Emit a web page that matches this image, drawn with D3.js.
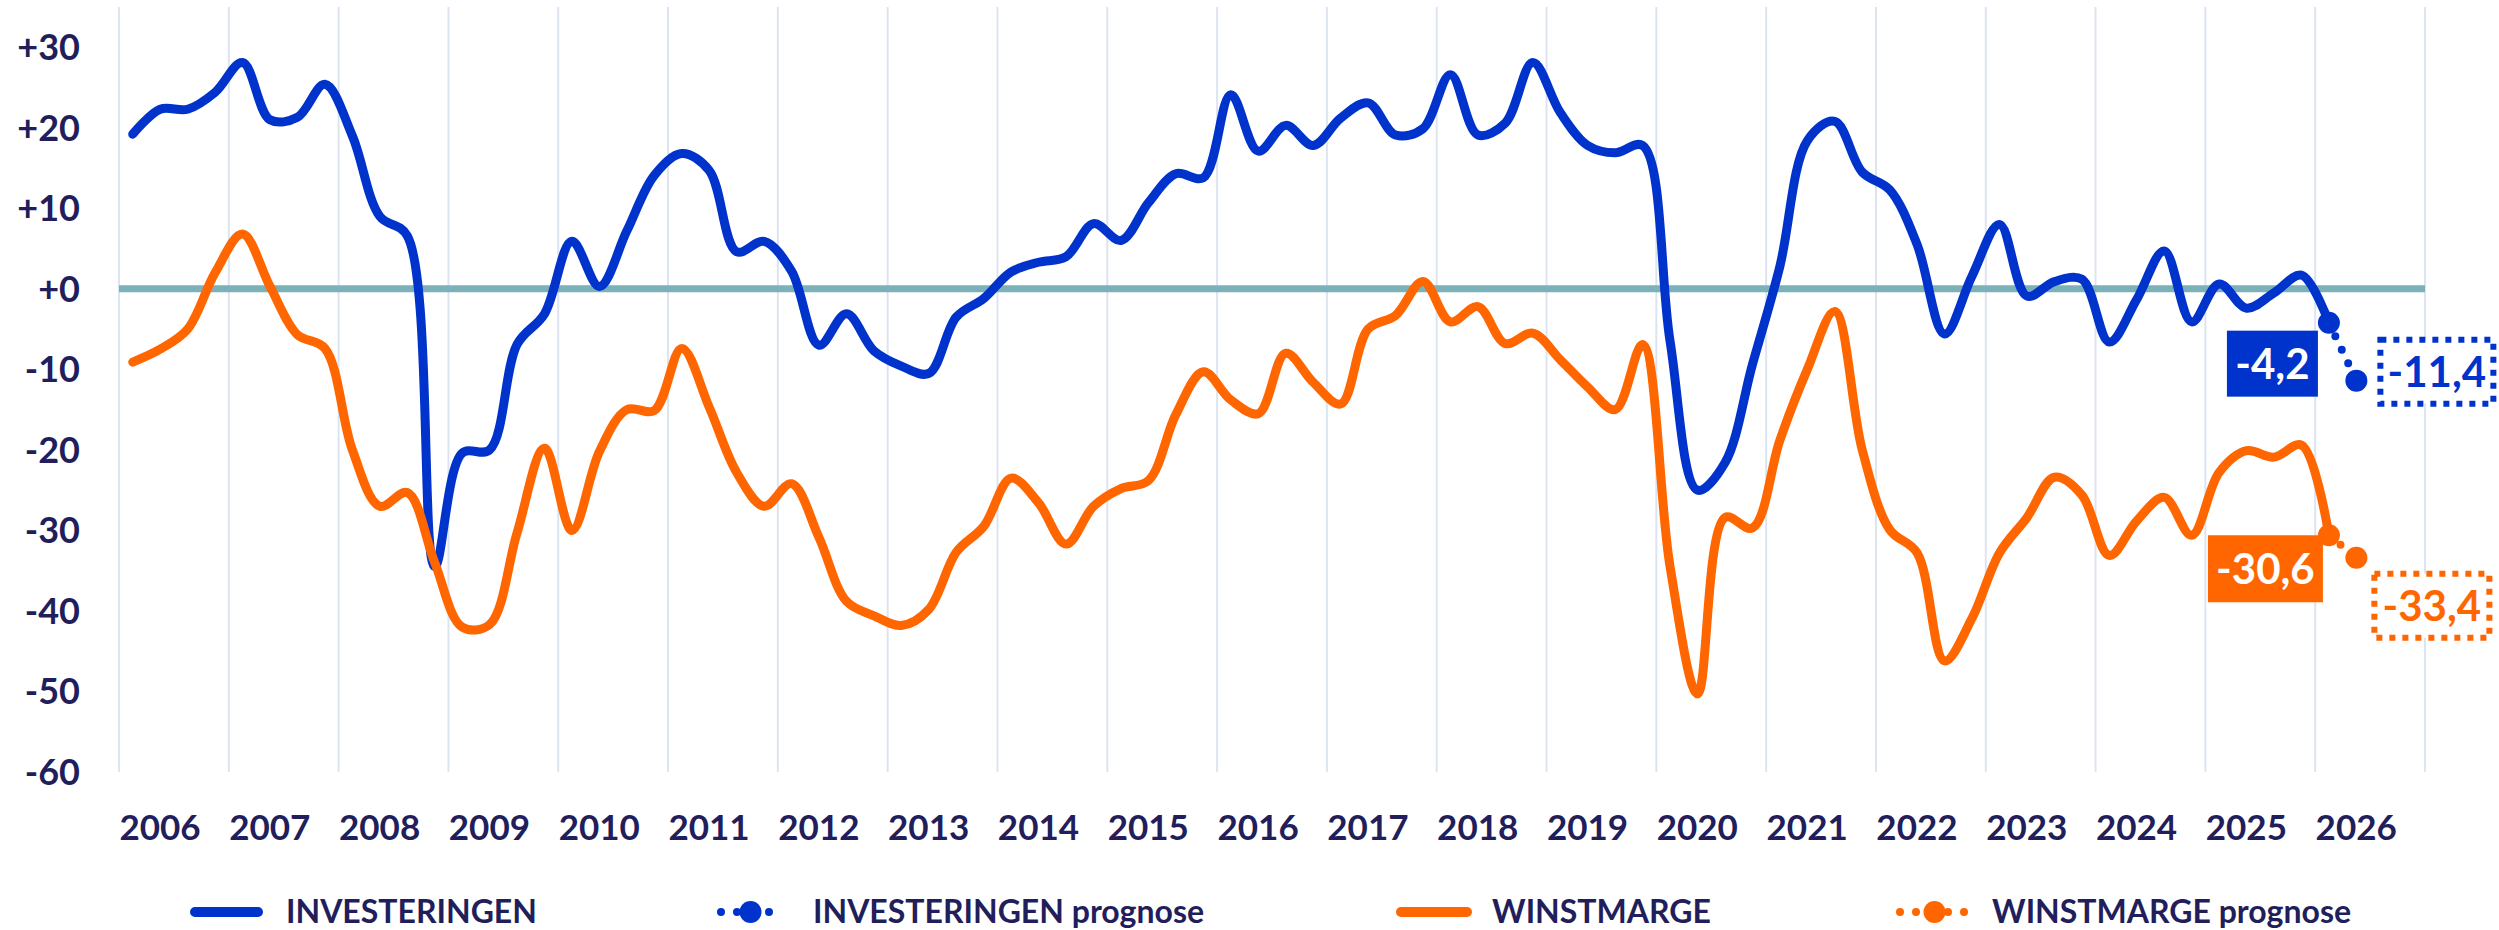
<!DOCTYPE html>
<html>
<head>
<meta charset="utf-8">
<script src="https://cdn.jsdelivr.net/npm/d3@7"></script>
<style>
  body { margin: 0; background: #fff; }
  text { font-family: "Lato", "Open Sans", sans-serif; font-weight: 700; }
</style>
</head>
<body>
<script>
// quarterly balances, 2006 Q1 .. 2026 Q1
const years = [2006, 2007, 2008, 2009, 2010, 2011, 2012, 2013, 2014, 2015, 2016,
  2017, 2018, 2019, 2020, 2021, 2022, 2023, 2024, 2025, 2026];
const yTicks = [30, 20, 10, 0, -10, -20, -30, -40, -50, -60];

const investeringen = [
  19.2, 22.3, 22.3, 24.4, 28.1, 21.0, 21.3, 25.4, 19.0, 9.0, 6.6, -34.5,
  -20.4, -20.0, -6.9, -3.1, 5.9, 0.3, 7.2, 14.1, 16.8, 14.7, 4.6, 5.9,
  2.2, -7.0, -3.1, -7.7, -9.6, -10.5, -3.5, -1.2, 2.1, 3.3, 4.0, 8.1,
  6.0, 10.7, 14.3, 13.8, 24.1, 17.1, 20.3, 17.8, 21.2, 23.1, 19.1, 19.9,
  26.6, 19.1, 20.6, 28.1, 21.9, 17.8, 16.9, 17.8, -6.5, -25.0, -21.6, -9.4,
  2.8, 18.4, 20.8, 14.5, 12.3, 5.5, -5.6, 1.6, 8.0, -0.9, 0.9, 1.2,
  -6.6, -1.3, 4.7, -4.1, 0.6, -2.4, -0.5, 1.7, -4.2
];
const winstmarge = [
  -9.1, -7.5, -5.0, 2.0, 6.8, 0.3, -5.7, -7.4, -20.0, -27.0, -25.3, -34.0,
  -42.0, -41.7, -30.3, -19.8, -30.0, -20.2, -15.0, -15.1, -7.4, -14.7, -22.8, -27.0,
  -24.2, -30.9, -38.8, -40.6, -41.8, -39.8, -32.7, -29.5, -23.5, -26.6, -31.7, -27.0,
  -24.8, -23.8, -15.6, -10.3, -13.8, -15.5, -8.0, -11.6, -14.3, -5.0, -3.3, 0.9,
  -4.1, -2.2, -6.8, -5.5, -8.8, -12.2, -15.0, -6.9, -34.5, -50.3, -28.4, -29.7,
  -18.8, -10.0, -2.8, -20.0, -29.9, -32.8, -46.2, -40.9, -32.8, -28.4, -23.4, -25.6,
  -33.1, -28.8, -25.9, -30.6, -22.8, -20.1, -20.9, -19.4, -30.6
];
// last observation (2026 Q1) and forecast (2026 Q2)
const investeringenPrognose = [-4.2, -11.4];
const winstmargePrognose = [-30.6, -33.4];
const prognoseStart = investeringen.length - 1;

const w = 2499;
const h = 930;
const plotLeft = 119;
const plotRight = 2425;
const plotTop = 7;
const plotBottom = 772;
const navy = "#211e5b";
const blue = "#0033cc";
const orange = "#ff6600";

const svg = d3.select("body").append("svg").attr("width", w).attr("height", h);

const xScale = d3.scaleLinear().domain([0, years.length * 4]).range([plotLeft, plotRight]);
const yScale = d3.scaleLinear().domain([-60, 35]).range([plotBottom, plotTop]);
const xq = (i) => xScale(i + 0.5);

// vertical year gridlines
svg.append("g")
  .selectAll("line")
  .data(d3.range(years.length + 1))
  .enter()
  .append("line")
  .attr("x1", (k) => xScale(k * 4))
  .attr("x2", (k) => xScale(k * 4))
  .attr("y1", plotTop)
  .attr("y2", plotBottom)
  .attr("stroke", "#dde4f1")
  .attr("stroke-width", 2);

// zero line
svg.append("line")
  .attr("x1", plotLeft)
  .attr("x2", plotRight)
  .attr("y1", yScale(0))
  .attr("y2", yScale(0))
  .attr("stroke", "#7bb2ba")
  .attr("stroke-width", 7);

// y labels
svg.append("g")
  .selectAll("text")
  .data(yTicks)
  .enter()
  .append("text")
  .attr("x", 80)
  .attr("y", (d) => yScale(d))
  .attr("dy", "0.36em")
  .attr("text-anchor", "end")
  .attr("font-size", 36)
  .attr("fill", navy)
  .text((d) => (d >= 0 ? "+" + d : "" + d));

// x labels
svg.append("g")
  .selectAll("text")
  .data(years)
  .enter()
  .append("text")
  .attr("x", (d, k) => xScale(k * 4) + 41)
  .attr("y", 840)
  .attr("text-anchor", "middle")
  .attr("font-size", 35)
  .attr("fill", navy)
  .text((d) => d);

const line = d3.line()
  .x((d, i) => xq(i))
  .y((d) => yScale(d))
  .curve(d3.curveCatmullRom.alpha(0.5));

svg.append("path")
  .datum(investeringen)
  .attr("d", line)
  .attr("fill", "none")
  .attr("stroke", blue)
  .attr("stroke-width", 9)
  .attr("stroke-linejoin", "round")
  .attr("stroke-linecap", "round");

svg.append("path")
  .datum(winstmarge)
  .attr("d", line)
  .attr("fill", "none")
  .attr("stroke", orange)
  .attr("stroke-width", 9)
  .attr("stroke-linejoin", "round")
  .attr("stroke-linecap", "round");

const prognoseLine = d3.line()
  .x((d, i) => xq(prognoseStart + i))
  .y((d) => yScale(d));

[[investeringenPrognose, blue], [winstmargePrognose, orange]].forEach(([vals, col]) => {
  svg.append("path")
    .datum(vals)
    .attr("d", prognoseLine)
    .attr("fill", "none")
    .attr("stroke", col)
    .attr("stroke-width", 8)
    .attr("stroke-dasharray", "0 15")
    .attr("stroke-linecap", "round");
  svg.selectAll(null)
    .data(vals)
    .enter()
    .append("circle")
    .attr("cx", (d, i) => xq(prognoseStart + i))
    .attr("cy", (d) => yScale(d))
    .attr("r", 11)
    .attr("fill", col);
});

// value labels: filled box for last observation, dotted box for forecast
const fmt = (v) => String(v).replace(".", ",");
const labels = [
  { v: investeringenPrognose[0], i: 0, col: blue, filled: true, dx: -102, dy: 8, bw: 91, bh: 66 },
  { v: investeringenPrognose[1], i: 1, col: blue, filled: false, dx: 21, dy: -44, bw: 119, bh: 70 },
  { v: winstmargePrognose[0], i: 0, col: orange, filled: true, dx: -121, dy: 0, bw: 115, bh: 67 },
  { v: winstmargePrognose[1], i: 1, col: orange, filled: false, dx: 15, dy: 13, bw: 121, bh: 70 }
];
labels.forEach((l) => {
  const px = xq(prognoseStart + l.i);
  const py = yScale(l.v);
  const g = svg.append("g").attr("transform", `translate(${px + l.dx}, ${py + l.dy})`);
  g.append("rect")
    .attr("x", l.filled ? 0 : 3)
    .attr("y", l.filled ? 0 : 3)
    .attr("width", l.filled ? l.bw : l.bw - 6)
    .attr("height", l.filled ? l.bh : l.bh - 6)
    .attr("fill", l.filled ? l.col : "#fff")
    .attr("stroke", l.filled ? "none" : l.col)
    .attr("stroke-width", 6)
    .attr("stroke-dasharray", "6 7");
  g.append("text")
    .attr("x", l.bw / 2)
    .attr("y", l.bh / 2)
    .attr("dy", "0.36em")
    .attr("text-anchor", "middle")
    .attr("font-size", 42)
    .attr("fill", l.filled ? "#fff" : l.col)
    .text(fmt(l.v));
});

// legend
const legendItems = [
  { label: "INVESTERINGEN", col: blue, prognose: false, x0: 190, x1: 263, tx: 286 },
  { label: "INVESTERINGEN prognose", col: blue, prognose: true, x0: 717, x1: 784, tx: 813 },
  { label: "WINSTMARGE", col: orange, prognose: false, x0: 1396, x1: 1472, tx: 1492 },
  { label: "WINSTMARGE prognose", col: orange, prognose: true, x0: 1896, x1: 1973, tx: 1992 }
];
const ly = 912;
legendItems.forEach((d) => {
  if (d.prognose) {
    svg.append("line")
      .attr("x1", d.x0 + 4).attr("x2", d.x1 - 4)
      .attr("y1", ly).attr("y2", ly)
      .attr("stroke", d.col)
      .attr("stroke-width", 8)
      .attr("stroke-dasharray", "0 16")
      .attr("stroke-linecap", "round");
    svg.append("circle")
      .attr("cx", (d.x0 + d.x1) / 2)
      .attr("cy", ly)
      .attr("r", 11)
      .attr("fill", d.col);
  } else {
    svg.append("line")
      .attr("x1", d.x0 + 5).attr("x2", d.x1 - 5)
      .attr("y1", ly).attr("y2", ly)
      .attr("stroke", d.col)
      .attr("stroke-width", 10)
      .attr("stroke-linecap", "round");
  }
  svg.append("text")
    .attr("x", d.tx)
    .attr("y", 923)
    .attr("font-size", 32)
    .attr("fill", navy)
    .text(d.label);
});
</script>
</body>
</html>
